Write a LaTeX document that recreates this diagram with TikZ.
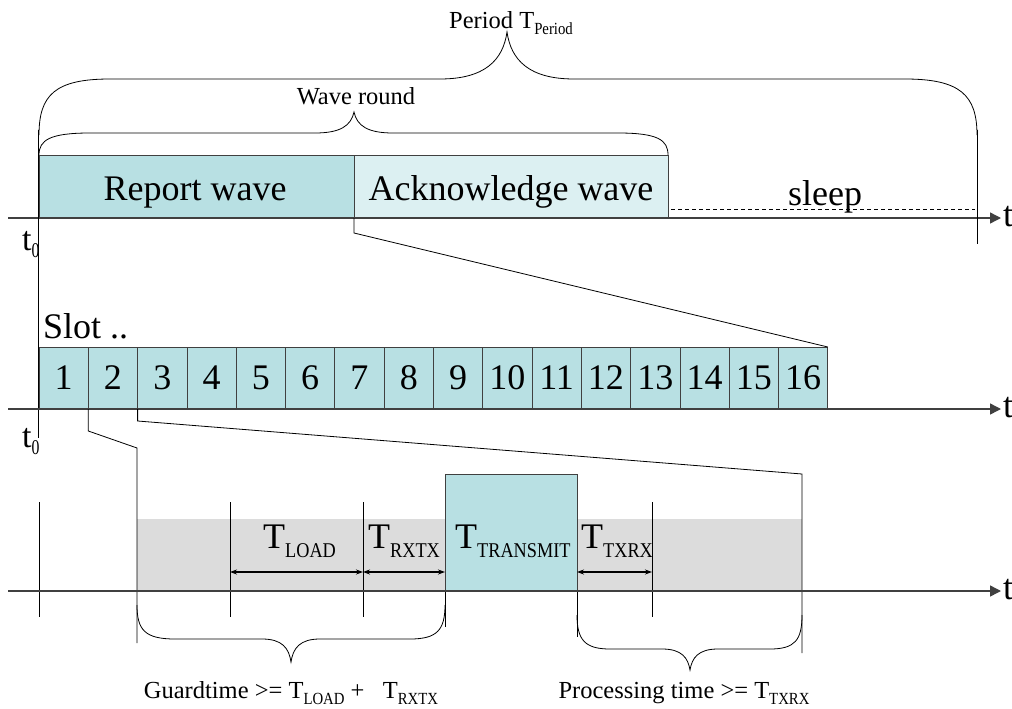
\documentclass[tikz,border=0pt]{standalone}
\usepackage{fontspec}
\usepackage{graphicx}
\setmainfont{Liberation Serif}
\usetikzlibrary{arrows.meta}
\definecolor{tealA}{HTML}{B8E0E3}
\definecolor{tealB}{HTML}{DCF0F2}
\definecolor{grayband}{HTML}{DCDCDC}
\definecolor{axisgray}{HTML}{404040}
\newcommand\bigsz{\fontsize{36}{40}\selectfont}
\newcommand\midsz{\fontsize{24.5}{26}\selectfont}
\newcommand\Tbig[1]{T\raisebox{-9pt}{\scalebox{0.87}[1]{\fontsize{21}{22}\selectfont #1}}}
\newcommand\Tmid[1]{T\raisebox{-6pt}{\scalebox{0.87}[1]{\fontsize{17}{18}\selectfont #1}}}
\newcommand\tnull{t\raisebox{-7pt}{\scalebox{0.75}[1]{\fontsize{21}{22}\selectfont 0}}}
\begin{document}
\begin{tikzpicture}[x=1pt,y=-1pt,
  ln/.style={draw=black,line width=0.8pt},
  axisline/.style={draw=axisgray,line width=1.4pt,-{Triangle[length=11pt,width=11pt]}},
  brc/.style={draw=black,line width=0.8pt},
  dimarrow/.style={draw=black,line width=1.1pt,{Stealth[length=7pt,width=5pt]}-{Stealth[length=7pt,width=5pt]}},
  box/.style={draw=black!75,line width=0.8pt,inner sep=0pt,outer sep=0pt,anchor=north west},
  big/.style={inner sep=0pt,font=\bigsz},
  mid/.style={inner sep=0pt,font=\midsz}]
\useasboundingbox (0,0) rectangle (1012,709);

% ---------- top row ----------
\node[box,fill=tealA,minimum width=315pt,minimum height=63pt] (rep) at (39,155) {};
\node[box,fill=tealB,minimum width=314pt,minimum height=63pt] (ack) at (354,155) {};
\node[big,anchor=base] (reptxt) at (195,200) {Report wave};
\node[big,anchor=base] (acktxt) at (511,200) {Acknowledge wave};
\node[big,anchor=base] (sleep) at (825,205) {sleep};
\coordinate (slA) at (671,209);
\coordinate (slB) at (975,209);
\draw[draw=black,line width=0.9pt,dash pattern=on 4pt off 3pt] (slA) -- (slB);

\coordinate (ax1s) at (8,218);
\coordinate (ax1e) at (1001,218);
\draw[axisline] (ax1s) -- (ax1e);
\node[big,anchor=base west] (t1) at (1003,226) {t};
\node[font=\fontsize{34}{36}\selectfont,inner sep=0pt,anchor=base west] (t01) at (22,250) {\tnull};

% vertical limits
\coordinate (vL1) at (38,130);
\coordinate (vL2) at (38,438);
\draw[ln] (vL1) -- (vL2);
\coordinate (vR1) at (977,130);
\coordinate (vR2) at (977,244);
\draw[ln] (vR1) -- (vR2);

% braces
\draw[brc] (39,135) .. controls (39,95) and (55,79) .. (110,79) -- (440,79)
  .. controls (485,79) and (503,60) .. (507,32)
  .. controls (511,60) and (529,79) .. (574,79) -- (905,79)
  .. controls (960,79) and (977,95) .. (977,135);
\node[mid,anchor=base west] (period) at (449,29) {Period \Tmid{Period}};

\draw[brc] (39,155) .. controls (39,140) and (50,133) .. (90,133) -- (315,133)
  .. controls (340,133) and (351,126) .. (354,112)
  .. controls (357,126) and (368,133) .. (393,133) -- (618,133)
  .. controls (658,133) and (668,140) .. (668,155);
\node[mid,anchor=base] (waveround) at (356,104) {Wave round};

% ---------- slot row ----------
\foreach \i in {1,...,16}{
  \node[box,fill=tealA,minimum width=49.3pt,minimum height=62pt,font=\bigsz] (s\i) at ({39+49.3*(\i-1)},347) {\i};
}
\node[big,anchor=base west] (slot) at (43,338) {Slot ..};
\coordinate (ax2s) at (8,409);
\coordinate (ax2e) at (1001,409);
\draw[axisline] (ax2s) -- (ax2e);
\node[big,anchor=base west] (t2) at (1003,417) {t};
\node[font=\fontsize{34}{36}\selectfont,inner sep=0pt,anchor=base west] (t02) at (22,447) {\tnull};

\draw[ln] (rep.south east) -- ++(0,15) -- (s16.north east);

% ---------- bottom row ----------
\node[inner sep=0pt,outer sep=0pt,fill=grayband,minimum width=665pt,minimum height=72pt,anchor=north west] (band) at (137,519) {};
\node[box,fill=tealA,minimum width=132pt,minimum height=117pt] (tx) at (445,474) {};

\coordinate (zl1) at (137,448);
\coordinate (zl1b) at (137,643);
\coordinate (zr1) at (802,474);
\coordinate (zr1b) at (802,653);
\draw[ln] (s2.south west) -- ++(0,22) -- (zl1) -- (zl1b);
\draw[ln] (s3.south west) -- ++(0,12) -- (zr1) -- (zr1b);

\foreach \x/\n in {39/a,230/b,363/c,652/d}{
  \coordinate (mk\n1) at (\x,502);
  \coordinate (mk\n2) at (\x,617);
  \draw[ln] (mk\n1) -- (mk\n2);
}
\coordinate (txL) at (445,627);
\coordinate (txR) at (577,637);
\draw[ln] (tx.south west) -- (txL);
\draw[ln] (tx.south east) -- (txR);

\coordinate (ax3s) at (8,591);
\coordinate (ax3e) at (1001,591);
\draw[axisline] (ax3s) -- (ax3e);
\node[big,anchor=base west] (t3) at (1003,599) {t};

\coordinate (dA) at (230,572);
\coordinate (dB) at (363,572);
\coordinate (dC) at (445,572);
\coordinate (dD) at (577,572);
\coordinate (dE) at (652,572);
\draw[dimarrow] (dA) -- (dB);
\draw[dimarrow] (dB) -- (dC);
\draw[dimarrow] (dD) -- (dE);

\node[big,anchor=base west] (tload) at (263,548) {\Tbig{LOAD}};
\node[big,anchor=base west] (trxtx) at (368,548) {\Tbig{RXTX}};
\node[big,anchor=base west] (ttrans) at (455,548) {\Tbig{TRANSMIT}};
\node[big,anchor=base west] (ttxrx) at (581,548) {\Tbig{TXRX}};

% bottom braces
\draw[brc] (137,605) .. controls (137,630) and (145,639) .. (175,639) -- (262,639)
  .. controls (282,639) and (289,648) .. (291,662)
  .. controls (293,648) and (300,639) .. (320,639) -- (410,639)
  .. controls (437,639) and (445,630) .. (445,605);
\draw[brc] (577,615) .. controls (577,640) and (585,649) .. (610,649) -- (662,649)
  .. controls (682,649) and (688,658) .. (690,670)
  .. controls (692,658) and (698,649) .. (718,649) -- (770,649)
  .. controls (795,649) and (802,640) .. (802,615);

\node[mid,anchor=base] (guard) at (291,698) {Guardtime >= \Tmid{LOAD} +\ \ \ \Tmid{RXTX}};
\node[mid,anchor=base] (proc) at (684,698) {Processing time >= \Tmid{TXRX}};
\end{tikzpicture}
\end{document}
